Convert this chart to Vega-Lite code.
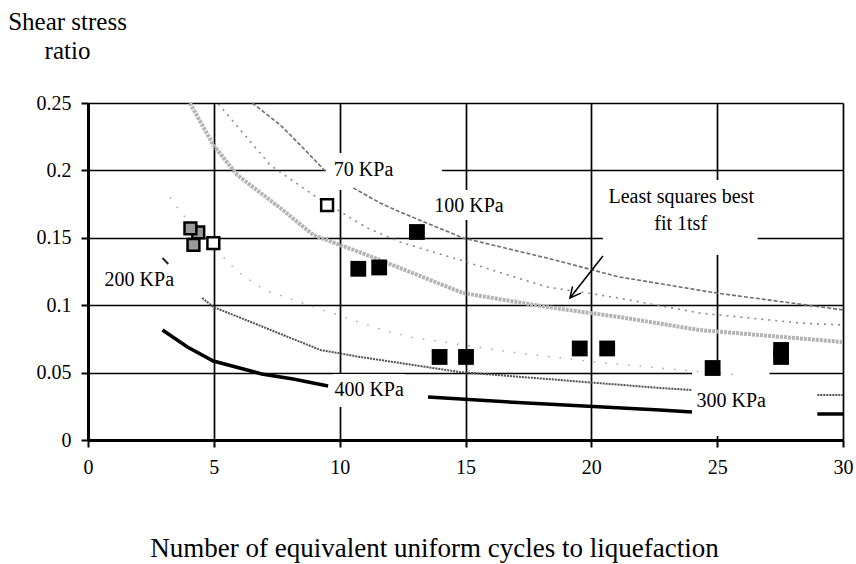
{
  "$schema": "https://vega.github.io/schema/vega-lite/v6.json",
  "width": 755,
  "height": 337,
  "autosize": {"type": "none"},
  "padding": {"left": 88, "top": 103, "right": 13, "bottom": 124},
  "background": "white",
  "config": {
    "view": {"stroke": null},
    "font": "Liberation Serif",
    "axis": {
      "domainColor": "black", "domainWidth": 3,
      "tickColor": "black", "tickWidth": 2, "tickSize": 7,
      "gridColor": "black", "gridWidth": 1.7, "gridOpacity": 1,
      "labelColor": "black", "labelFont": "Liberation Serif", "labelFontSize": 20,
      "labelFlush": false, "labelOverlap": false,
      "titleColor": "black", "titleFont": "Liberation Serif", "titleFontWeight": "normal"
    }
  },
  "datasets": {
    "curves": [
      {"s": "T1", "x": 6.53, "y": 0.25}, {"s": "T1", "x": 7.64, "y": 0.2337}, {"s": "T1", "x": 8.55, "y": 0.2166}, {"s": "T1", "x": 9.42, "y": 0.1996},
      {"s": "T4", "x": 10.54, "y": 0.187}, {"s": "T4", "x": 11.61, "y": 0.1758}, {"s": "T4", "x": 12.4, "y": 0.1691}, {"s": "T4", "x": 14.9, "y": 0.1499}, {"s": "T4", "x": 18.23, "y": 0.135}, {"s": "T4", "x": 21.13, "y": 0.1209}, {"s": "T4", "x": 24.98, "y": 0.109}, {"s": "T4", "x": 30, "y": 0.0965},
      {"s": "T2", "x": 5.18, "y": 0.2493}, {"s": "T2", "x": 7.24, "y": 0.204}, {"s": "T2", "x": 8.95, "y": 0.1818}, {"s": "T2", "x": 11.09, "y": 0.1573}, {"s": "T2", "x": 12.4, "y": 0.1469}, {"s": "T2", "x": 14.78, "y": 0.1335}, {"s": "T2", "x": 18.23, "y": 0.1135}, {"s": "T2", "x": 20.85, "y": 0.1061}, {"s": "T2", "x": 24.3, "y": 0.0942}, {"s": "T2", "x": 28.27, "y": 0.0868}, {"s": "T2", "x": 30, "y": 0.0853},
      {"s": "T3", "x": 4.05, "y": 0.25}, {"s": "T3", "x": 4.98, "y": 0.2188}, {"s": "T3", "x": 5.93, "y": 0.1966}, {"s": "T3", "x": 7.64, "y": 0.1721}, {"s": "T3", "x": 8.95, "y": 0.1521}, {"s": "T3", "x": 11.09, "y": 0.1372}, {"s": "T3", "x": 12.4, "y": 0.1276}, {"s": "T3", "x": 14.9, "y": 0.109}, {"s": "T3", "x": 18.23, "y": 0.0987}, {"s": "T3", "x": 21.13, "y": 0.0912}, {"s": "T3", "x": 24.3, "y": 0.0816}, {"s": "T3", "x": 30, "y": 0.0727},
      {"s": "D", "x": 4.54, "y": 0.1053}, {"s": "D", "x": 4.98, "y": 0.0987}, {"s": "D", "x": 6.57, "y": 0.0868}, {"s": "D", "x": 9.23, "y": 0.0668}, {"s": "D", "x": 10.81, "y": 0.0616}, {"s": "D", "x": 14.78, "y": 0.0504}, {"s": "D", "x": 18.75, "y": 0.0445}, {"s": "D", "x": 22.72, "y": 0.0386}, {"s": "D", "x": 24.0, "y": 0.0371},
      {"s": "F", "x": 3.27, "y": 0.18}, {"s": "F", "x": 3.67, "y": 0.169}, {"s": "F", "x": 5.93, "y": 0.125}, {"s": "F", "x": 7.04, "y": 0.111}, {"s": "F", "x": 11.7, "y": 0.0816}, {"s": "F", "x": 12.8, "y": 0.0764}, {"s": "F", "x": 16.76, "y": 0.0653}, {"s": "F", "x": 20.6, "y": 0.057}, {"s": "F", "x": 23.5, "y": 0.052}, {"s": "F", "x": 26.0, "y": 0.048},
      {"s": "K400", "x": 2.96, "y": 0.0816}, {"s": "K400", "x": 3.95, "y": 0.069}, {"s": "K400", "x": 4.98, "y": 0.0586}, {"s": "K400", "x": 6.9, "y": 0.049}, {"s": "K400", "x": 8.15, "y": 0.0453}, {"s": "K400", "x": 9.54, "y": 0.04},
      {"s": "K300", "x": 13.51, "y": 0.0319}, {"s": "K300", "x": 17.44, "y": 0.0274}, {"s": "K300", "x": 22.72, "y": 0.0223}, {"s": "K300", "x": 24.0, "y": 0.0208},
      {"s": "stubG", "x": 28.98, "y": 0.0334}, {"s": "stubG", "x": 30, "y": 0.0334},
      {"s": "stubK", "x": 28.98, "y": 0.0193}, {"s": "stubK", "x": 30, "y": 0.0193},
      {"s": "leader", "x": 2.96, "y": 0.1350}, {"s": "leader", "x": 3.19, "y": 0.1306}
    ],
    "points": [
      {"k": "gray", "x": 4.38, "y": 0.154}, {"k": "gray", "x": 4.07, "y": 0.157}, {"k": "gray", "x": 4.19, "y": 0.1447},
      {"k": "open", "x": 4.98, "y": 0.146}, {"k": "open", "x": 9.5, "y": 0.1743},
      {"k": "black", "x": 10.74, "y": 0.127}, {"k": "black", "x": 11.57, "y": 0.128}, {"k": "black", "x": 13.07, "y": 0.1543},
      {"k": "black", "x": 13.97, "y": 0.0616}, {"k": "black", "x": 15.02, "y": 0.0616},
      {"k": "black", "x": 19.54, "y": 0.0679}, {"k": "black", "x": 20.63, "y": 0.0679},
      {"k": "black", "x": 24.82, "y": 0.0534},
      {"k": "black", "x": 27.54, "y": 0.0668}, {"k": "black", "x": 27.54, "y": 0.0616}
    ],
    "labels": [
      {"t": "70 KPa", "x": 10.95, "y": 0.1958},
      {"t": "100 KPa", "x": 15.14, "y": 0.1691},
      {"t": "Least squares best", "x": 23.57, "y": 0.1758},
      {"t": "fit 1tsf", "x": 23.55, "y": 0.1558},
      {"t": "200 KPa", "x": 2.04, "y": 0.1142},
      {"t": "400 KPa", "x": 11.17, "y": 0.0326},
      {"t": "300 KPa", "x": 25.56, "y": 0.0245}
    ],
    "boxes": [
      {"x": 9.45, "x2": 14.07, "y": 0.1855, "y2": 0.213},
      {"x": 13.8, "x2": 16.5, "y": 0.1632, "y2": 0.1855},
      {"x": 20.46, "x2": 26.61, "y": 0.1372, "y2": 0.1929},
      {"x": 9.74, "x2": 12.6, "y": 0.0245, "y2": 0.049},
      {"x": 24.0, "x2": 27.08, "y": 0.003, "y2": 0.0512}
    ],
    "arrow": [
      {"x": 20.46, "y": 0.1365, "x2": 19.15, "y2": 0.1053}
    ]
  },
  "encoding": {
    "x": {
      "field": "x", "type": "quantitative",
      "scale": {"domain": [0, 30], "nice": false, "zero": false},
      "axis": {
        "values": [0, 5, 10, 15, 20, 25, 30], "grid": true, "labelPadding": 10,
        "title": "Number of equivalent uniform cycles to liquefaction",
        "titleFontSize": 27, "titleX": 346, "titleY": 116, "titleAlign": "center", "titleBaseline": "alphabetic"
      }
    },
    "y": {
      "field": "y", "type": "quantitative",
      "scale": {"domain": [0, 0.25], "nice": false, "zero": false},
      "axis": {
        "values": [0, 0.05, 0.1, 0.15, 0.2, 0.25], "format": "~g", "grid": true, "labelPadding": 10,
        "title": ["Shear stress", "ratio"], "titleAngle": 0, "titleFontSize": 25, "titleLineHeight": 29,
        "titleX": -21, "titleY": -74, "titleAlign": "center", "titleBaseline": "alphabetic"
      }
    }
  },
  "layer": [
    {
      "data": {"name": "boxes"},
      "mark": {"type": "rect", "color": "white"},
      "encoding": {"x2": {"field": "x2"}, "y2": {"field": "y2"}}
    },
    {
      "data": {"name": "curves"},
      "transform": [{"filter": {"field": "s", "oneOf": ["T3"]}}],
      "mark": {"type": "line", "color": "#b4b4b4", "strokeWidth": 4, "strokeDash": [3, 1]},
      "encoding": {"detail": {"field": "s"}}
    },
    {
      "data": {"name": "curves"},
      "transform": [{"filter": {"field": "s", "oneOf": ["T1", "T4"]}}],
      "mark": {"type": "line", "color": "#6e6e6e", "strokeWidth": 1.6, "strokeDash": [4, 2]},
      "encoding": {"detail": {"field": "s"}}
    },
    {
      "data": {"name": "curves"},
      "transform": [{"filter": {"field": "s", "oneOf": ["T2"]}}],
      "mark": {"type": "line", "color": "#8a8a8a", "strokeWidth": 1.6, "strokeDash": [2, 5]},
      "encoding": {"detail": {"field": "s"}}
    },
    {
      "data": {"name": "curves"},
      "transform": [{"filter": {"field": "s", "oneOf": ["F"]}}],
      "mark": {"type": "line", "color": "#a8a8a8", "strokeWidth": 1.5, "strokeDash": [1.5, 10]},
      "encoding": {"detail": {"field": "s"}}
    },
    {
      "data": {"name": "curves"},
      "transform": [{"filter": {"field": "s", "oneOf": ["D", "stubG"]}}],
      "mark": {"type": "line", "color": "#505050", "strokeWidth": 2, "strokeDash": [2, 1]},
      "encoding": {"detail": {"field": "s"}}
    },
    {
      "data": {"name": "curves"},
      "transform": [{"filter": {"field": "s", "oneOf": ["leader"]}}],
      "mark": {"type": "line", "color": "#222222", "strokeWidth": 2},
      "encoding": {"detail": {"field": "s"}}
    },
    {
      "data": {"name": "curves"},
      "transform": [{"filter": {"field": "s", "oneOf": ["K400", "K300", "stubK"]}}],
      "mark": {"type": "line", "color": "black", "strokeWidth": 3.5},
      "encoding": {"detail": {"field": "s"}}
    },
    {
      "data": {"name": "points"},
      "transform": [{"filter": {"field": "k", "equal": "gray"}}],
      "mark": {"type": "point", "shape": "square", "filled": true, "fill": "#9a9a9a", "stroke": "black", "strokeWidth": 2.5, "size": 140, "opacity": 1}
    },
    {
      "data": {"name": "points"},
      "transform": [{"filter": {"field": "k", "equal": "open"}}],
      "mark": {"type": "point", "shape": "square", "filled": true, "fill": "white", "stroke": "black", "strokeWidth": 2.5, "size": 140, "opacity": 1}
    },
    {
      "data": {"name": "points"},
      "transform": [{"filter": {"field": "k", "equal": "black"}}],
      "mark": {"type": "point", "shape": "square", "filled": true, "color": "black", "size": 250, "opacity": 1}
    },
    {
      "data": {"name": "labels"},
      "mark": {"type": "text", "fontSize": 20, "align": "center", "baseline": "alphabetic", "color": "black", "font": "Liberation Serif"},
      "encoding": {"text": {"field": "t"}}
    },
    {
      "data": {"name": "arrow"},
      "mark": {"type": "rule", "color": "black", "strokeWidth": 1.5},
      "encoding": {"x2": {"field": "x2"}, "y2": {"field": "y2"}}
    },
    {
      "data": {"name": "arrow"},
      "mark": {"type": "point", "shape": "M-0.5,1L0,0L0.5,1", "filled": false, "stroke": "black", "strokeWidth": 1.5, "size": 460, "angle": 219, "opacity": 1},
      "encoding": {"x": {"field": "x2", "type": "quantitative"}, "y": {"field": "y2", "type": "quantitative"}}
    }
  ]
}
